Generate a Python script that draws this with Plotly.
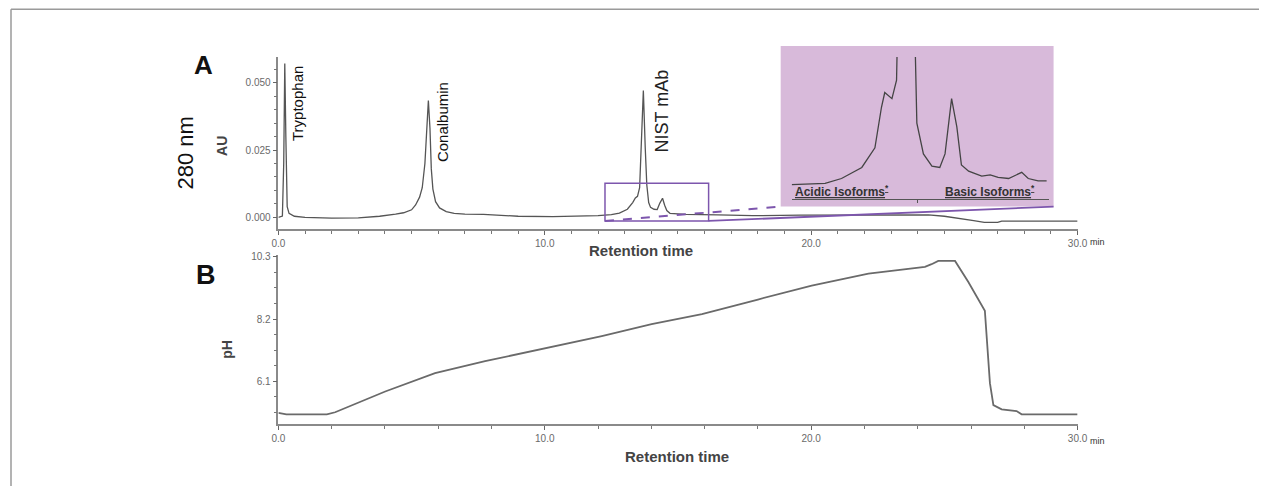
import plotly.graph_objects as go

W, H = 1269, 486

# ---------------- data ----------------
# Panel A: UV 280 nm chromatogram (AU vs retention time, min)
time_a = [0.0, 0.15, 0.2, 0.24, 0.28, 0.33, 0.4, 0.6, 1.0, 2.0, 3.0, 3.8, 4.4, 4.7,
          5.0, 5.15, 5.3, 5.4, 5.5, 5.57, 5.63, 5.69, 5.74, 5.8, 5.9, 6.05, 6.3, 6.6,
          7.0, 7.7, 8.4, 9.0, 10.3, 11.2, 12.0, 12.5, 12.8, 13.1, 13.3, 13.4, 13.48,
          13.56, 13.62, 13.70, 13.77, 13.83, 13.9, 13.97, 14.1, 14.22, 14.32, 14.42,
          14.5, 14.58, 14.7, 15.0, 15.3, 16.5, 17.8, 19.6, 22.0, 24.4, 25.0, 25.65,
          26.1, 26.5, 27.0, 27.15, 28.0, 30.0]
au_a = [0.0, 0.0005, 0.02, 0.0571, 0.03, 0.004, 0.0015, 0.0004, 0.0, -0.0003, -0.0002,
        0.0004, 0.0012, 0.0017, 0.0028, 0.0046, 0.0075, 0.011, 0.02, 0.032, 0.0434,
        0.033, 0.018, 0.0105, 0.0058, 0.0035, 0.0021, 0.0015, 0.0012, 0.0011, 0.0006,
        0.0004, 0.0003, 0.0004, 0.0006, 0.001, 0.0016, 0.003, 0.0055, 0.0072, 0.0078,
        0.011, 0.025, 0.0471, 0.026, 0.012, 0.0055, 0.0037, 0.003, 0.0029, 0.0053,
        0.0071, 0.0045, 0.0025, 0.0015, 0.0012, 0.0011, 0.0009, 0.0006, 0.0008, 0.0009,
        0.0009, 0.0004, -0.0004, -0.0012, -0.0019, -0.0019, -0.0014, -0.0014, -0.0014]

# Inset: zoom on NIST mAb charge variants
inset_time = [11.98, 12.49, 12.74, 13.05, 13.25, 13.35, 13.40, 13.51, 13.58, 13.72,
              13.89, 13.99, 14.12, 14.24, 14.32, 14.42, 14.50, 14.57, 14.68, 14.88,
              15.01, 15.13, 15.29, 15.49, 15.59, 15.74, 15.87]
inset_au = [0.0001, 0.0002, 0.0006, 0.0015, 0.0031, 0.0064, 0.0076, 0.0071, 0.0086,
            0.0467, 0.0051, 0.0026, 0.0016, 0.0015, 0.0026, 0.0071, 0.0048, 0.0017,
            0.0012, 0.0008, 0.0009, 0.0007, 0.0006, 0.0011, 0.0006, 0.0004, 0.0004]

# Panel B: pH trace
time_ph = [0.0, 0.3, 1.82, 2.13, 4.01, 5.88, 7.76, 10.01, 12.14, 14.01, 15.9, 18.0,
           20.02, 22.15, 24.27, 24.52, 24.77, 25.40, 25.90, 26.52, 26.71, 26.84,
           27.15, 27.71, 27.90, 30.0]
ph = [5.04, 4.99, 4.99, 5.06, 5.76, 6.38, 6.78, 7.23, 7.63, 8.03, 8.37, 8.86, 9.33,
      9.73, 9.96, 10.05, 10.16, 10.16, 9.45, 8.48, 6.04, 5.30, 5.16, 5.10, 4.99, 4.99]

x_tickvals = [0, 10, 20, 30]
x_ticktext = ["0.0", "10.0", "20.0", "30.0"]
au_tickvals = [0.0, 0.025, 0.05]
au_ticktext = ["0.000", "0.025", "0.050"]
ph_tickvals = [6.1, 8.2, 10.3]
ph_ticktext = ["6.1", "8.2", "10.3"]
peak_labels = ["Tryptophan", "Conalbumin", "NIST mAb"]
zoom_window = dict(x0=12.26, x1=16.15, y0=-0.00135, y1=0.0127)

# ---------------- layout helpers ----------------
# correction for the slight shrink observed in the rendered screenshot
SX, OX = 0.987, 5.0
SY, OY = 0.9827, 4.3

def px(x):
    return ((x - OX) / SX) / W

def py(y):
    return 1 - ((y - OY) / SY) / H

XA_L, XA_R = 276.5, 1076.0
A_BOT, A_TOP = 227.0, 56.7
B_BOT, B_TOP = 420.0, 253.0
A_RANGE = [-0.00424, 0.0596]
B_RANGE = [4.68, 10.36]
INS_L, INS_R, INS_AX, INS_CLIP = 790.0, 1047.0, 197.3, 56.7
BOX_L, BOX_R, BOX_T, BOX_B = 779.0, 1052.0, 46.0, 205.0

def a_to_px(t, v):
    xp = XA_L + (t - 0) / 30.0 * (XA_R - XA_L)
    yp = A_BOT - (v - A_RANGE[0]) / (A_RANGE[1] - A_RANGE[0]) * (A_BOT - A_TOP)
    return xp, yp

AXC = "#8a8a8a"
TICKF = dict(family="Liberation Sans, Arial, sans-serif", size=10, color="#6a6a6a")
LINEC = "#555555"
PURPLE = "#7d56ad"

fig = go.Figure()

fig.add_trace(go.Scatter(x=time_a, y=au_a, mode="lines", xaxis="x", yaxis="y",
                         line=dict(color=LINEC, width=1.3), showlegend=False))
fig.add_trace(go.Scatter(x=time_ph, y=ph, mode="lines", xaxis="x2", yaxis="y2",
                         line=dict(color="#6a6a6a", width=1.8), showlegend=False))
fig.add_trace(go.Scatter(x=inset_time, y=inset_au, mode="lines", xaxis="x3", yaxis="y3",
                         line=dict(color="#444444", width=1.3), showlegend=False))

common_x = dict(showgrid=False, zeroline=False, showline=True, linecolor=AXC, linewidth=2,
                ticks="outside", ticklen=4, tickcolor="#666", tickfont=TICKF,
                tickvals=x_tickvals, ticktext=x_ticktext, range=[0, 30],
                domain=[px(XA_L), px(XA_R)])

fig.update_layout(
    width=W, height=H, autosize=False,
    margin=dict(l=0, r=0, t=0, b=0),
    paper_bgcolor="white", plot_bgcolor="rgba(0,0,0,0)",
    font=dict(family="Liberation Sans, Arial, sans-serif"),
    xaxis=dict(**common_x, anchor="y",
               minor=dict(dtick=1, tick0=0, ticks="outside", ticklen=3, tickcolor="#777")),
    yaxis=dict(domain=[py(A_BOT), py(A_TOP)], range=A_RANGE, anchor="x",
               showgrid=False, zeroline=False, showline=True, linecolor=AXC, linewidth=1.5,
               ticks="outside", ticklen=4, tickcolor="#666", tickfont=TICKF,
               tickvals=au_tickvals, ticktext=au_ticktext,
               minor=dict(dtick=0.005, tick0=0, ticks="outside", ticklen=3, tickcolor="#777")),
    xaxis2=dict(**common_x, anchor="y2",
                minor=dict(dtick=2, tick0=0, ticks="outside", ticklen=3, tickcolor="#777")),
    yaxis2=dict(domain=[py(B_BOT), py(B_TOP)], range=B_RANGE, anchor="x2",
                showgrid=False, zeroline=False, showline=True, linecolor=AXC, linewidth=1.5,
                ticks="outside", ticklen=4, tickcolor="#666", tickfont=TICKF,
                tickvals=ph_tickvals, ticktext=ph_ticktext,
                minor=dict(dtick=0.525, tick0=6.1, ticks="outside", ticklen=3, tickcolor="#777")),
    xaxis3=dict(domain=[px(INS_L), px(INS_R)], range=[11.98, 15.90], anchor="y3",
                showgrid=False, zeroline=False, showline=True, linecolor="#555", linewidth=1,
                ticks="outside", ticklen=3, tickcolor="#555", tickvals=[13.9],
                showticklabels=False),
    yaxis3=dict(domain=[py(INS_AX), py(INS_CLIP)], range=[-0.00105, 0.0105], anchor="x3",
                visible=False),
)

shapes = []
# outer frame (top and left)
shapes.append(dict(type="line", xref="paper", yref="paper", x0=px(9), x1=1.0,
                   y0=py(9.5), y1=py(9.5), line=dict(color="#9a9a9a", width=1.5)))
shapes.append(dict(type="line", xref="paper", yref="paper", x0=px(9), x1=px(9),
                   y0=py(9.5), y1=0, line=dict(color="#9a9a9a", width=1.5)))
# inset background
shapes.append(dict(type="rect", xref="paper", yref="paper", layer="below",
                   x0=px(BOX_L), x1=px(BOX_R), y0=py(BOX_B), y1=py(BOX_T),
                   fillcolor="rgb(216,186,218)", line=dict(width=0)))
# zoom box on panel A
shapes.append(dict(type="rect", xref="x", yref="y", x0=zoom_window["x0"], x1=zoom_window["x1"],
                   y0=zoom_window["y0"], y1=zoom_window["y1"],
                   line=dict(color=PURPLE, width=1.5)))
# connectors
bl = a_to_px(zoom_window["x0"], zoom_window["y0"])
br = a_to_px(zoom_window["x1"], zoom_window["y0"])
shapes.append(dict(type="line", xref="paper", yref="paper", x0=px(bl[0]), y0=py(bl[1]),
                   x1=px(BOX_L), y1=py(BOX_B), line=dict(color=PURPLE, width=2, dash="dash")))
shapes.append(dict(type="line", xref="paper", yref="paper", x0=px(br[0]), y0=py(br[1]),
                   x1=px(BOX_R), y1=py(BOX_B), line=dict(color=PURPLE, width=1.8)))
fig.update_layout(shapes=shapes)

ann = []
def add_text(text, x, y, size, color="#000", bold=False, angle=0, xanchor="center", family=None):
    t = f"<b>{text}</b>" if bold else text
    d = dict(text=t, x=px(x), y=py(y), xref="paper", yref="paper", showarrow=False,
             xanchor=xanchor, yanchor="middle", textangle=angle,
             font=dict(size=size, color=color,
                       family=family or "Liberation Sans, Arial, sans-serif"))
    ann.append(d)

add_text("A", 202, 65, 26, "#111", bold=True)
add_text("B", 204, 273, 27, "#111", bold=True)
add_text("280 nm", 183.5, 152, 22, "#111", angle=-90)
add_text("AU", 220, 145, 14, "#444", bold=True, angle=-90)
add_text("pH", 225, 346, 14, "#444", bold=True, angle=-90)
add_text(peak_labels[0], 295, 102.5, 15, "#111", angle=-90)
add_text(peak_labels[1], 440, 121.5, 15, "#111", angle=-90)
add_text(peak_labels[2], 660.5, 110.5, 18, "#222", angle=-90)
add_text("Retention time", 639, 249, 15, "#444", bold=True)
add_text("Retention time", 675, 453, 15, "#444", bold=True)
add_text("min", 1086, 240, 9, "#333", xanchor="left")
add_text("min", 1086, 437, 9, "#333", xanchor="left")
add_text("<u>Acidic Isoforms<sup>*</sup></u>", 840, 190, 12, "#333", bold=True)
add_text("<u>Basic Isoforms<sup>*</sup></u>", 988, 190, 12, "#333", bold=True)
fig.update_layout(annotations=ann)

fig.write_html("out.html", config={"displayModeBar": False},
               post_script="document.body.style.margin='0';document.body.style.overflow='hidden';")
